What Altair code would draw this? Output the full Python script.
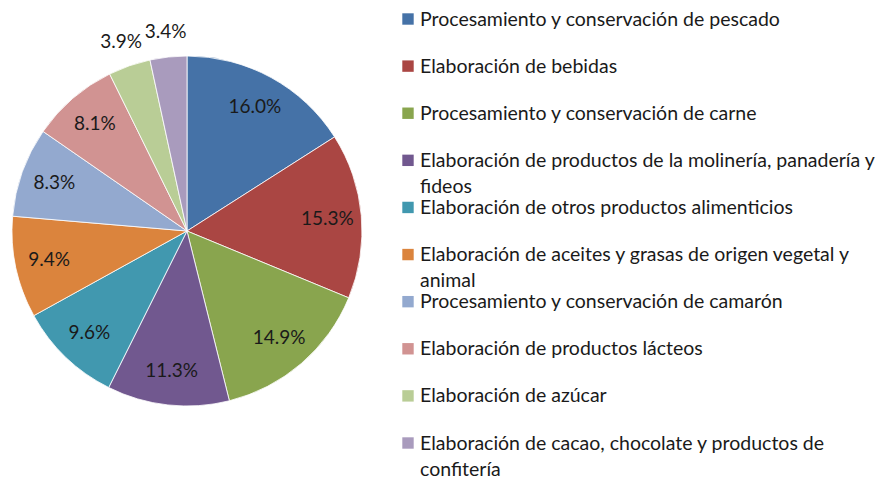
import altair as alt
import pandas as pd

categories = [
    "Procesamiento y conservación de pescado",
    "Elaboración de bebidas",
    "Procesamiento y conservación de carne",
    "Elaboración de productos de la molinería, panadería y fideos",
    "Elaboración de otros productos alimenticios",
    "Elaboración de aceites y grasas de origen vegetal y animal",
    "Procesamiento y conservación de camarón",
    "Elaboración de productos lácteos",
    "Elaboración de azúcar",
    "Elaboración de cacao, chocolate y productos de confitería",
]
legend_lines = [
    "Procesamiento y conservación de pescado",
    "Elaboración de bebidas",
    "Procesamiento y conservación de carne",
    "Elaboración de productos de la molinería, panadería y\nfideos",
    "Elaboración de otros productos alimenticios",
    "Elaboración de aceites y grasas de origen vegetal y\nanimal",
    "Procesamiento y conservación de camarón",
    "Elaboración de productos lácteos",
    "Elaboración de azúcar",
    "Elaboración de cacao, chocolate y productos de\nconfitería",
]
values = [16.0, 15.3, 14.9, 11.3, 9.6, 9.4, 8.3, 8.1, 3.9, 3.4]
colors = ["#4572A7", "#AA4643", "#89A54E", "#71588F", "#4198AF",
          "#DB843D", "#93A9CF", "#D19392", "#B9CD96", "#A99BBD"]

df = pd.DataFrame({
    "idx": list(range(len(categories))),
    "cat": categories,
    "legend": legend_lines,
    "value": values,
})

FONT = "Lato"
CX, CY, R = 179, 223, 175

color = alt.Color("cat:N", scale=alt.Scale(domain=categories, range=colors), legend=None)
base = alt.Chart(df)

arcs = base.mark_arc(outerRadius=R, stroke="#ffffff", strokeWidth=0.8).encode(
    theta=alt.Theta("value:Q", stack=True),
    order=alt.Order("idx:Q"),
    color=color,
    x=alt.value(CX), y=alt.value(CY),
)

labels = base.transform_window(
    cum="sum(value)", sort=[alt.SortField("idx")], frame=[None, 0]
).transform_calculate(
    mid="datum.cum - datum.value / 2",
    label="format(datum.value, '.1f') + '%'",
    r="datum.value < 5 ? 200 : 141",
).mark_text(font=FONT, fontSize=19, color="#1a1a1a").encode(
    theta=alt.Theta("mid:Q", stack=None),
    radius=alt.Radius("r:Q", scale=None),
    text="label:N",
    x=alt.value(CX), y=alt.value(CY),
)

yscale = alt.Scale(domain=[0, 9], range=[11, 435])

squares = base.mark_square(size=130, opacity=1).encode(
    x=alt.value(400),
    y=alt.Y("idx:Q", scale=yscale, axis=None),
    color=color,
)

ltext = base.mark_text(font=FONT, fontSize=19.5, color="#1a1a1a", align="left",
                       baseline="alphabetic", dy=6.5, lineBreak="\n", lineHeight=26).encode(
    x=alt.value(412),
    y=alt.Y("idx:Q", scale=yscale, axis=None),
    text="legend:N",
)

chart = alt.layer(arcs, labels, squares, ltext).properties(
    width=875, height=462, padding=0, background="#ffffff"
).configure_view(stroke=None)

chart.save("out.html", embed_options={"renderer": "svg", "actions": False})
